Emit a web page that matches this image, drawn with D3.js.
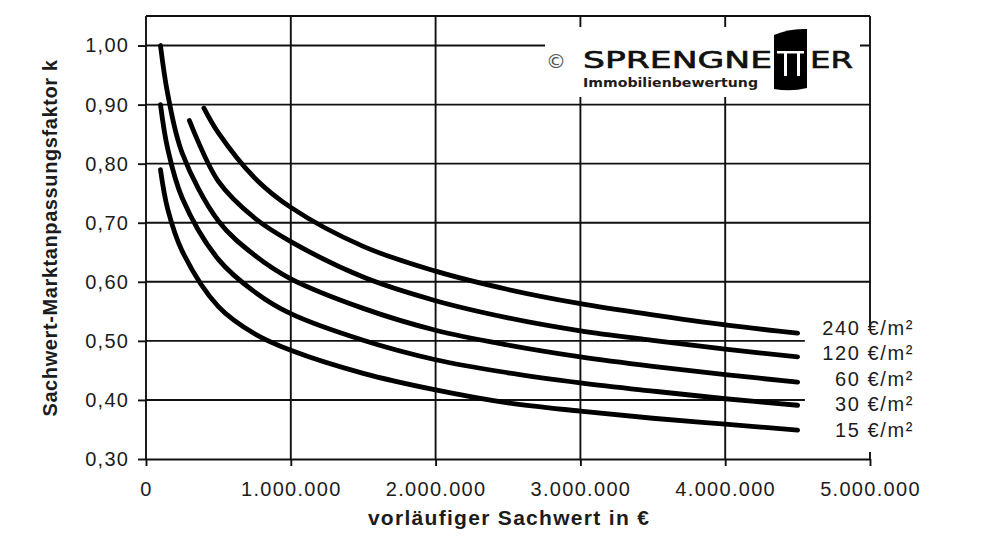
<!DOCTYPE html>
<html>
<head>
<meta charset="utf-8">
<script src="https://cdn.jsdelivr.net/npm/d3@7"></script>
<style>
body { margin: 0; background: #fff; }
text { font-family: "Liberation Sans", Arial, sans-serif; fill: #1c1c1c; }
</style>
</head>
<body>
<svg id="chart" width="997" height="556"></svg>
<script>
// axis ticks
const xTicks = [0, 1000000, 2000000, 3000000, 4000000, 5000000];
const yTicks = [0.30, 0.40, 0.50, 0.60, 0.70, 0.80, 0.90, 1.00];

// series (Bodenwertniveau) and values
const seriesLabels = ["240 €/m²", "120 €/m²", "60 €/m²", "30 €/m²", "15 €/m²"];

const xLow = [100000, 150000, 250000, 500000, 750000, 1000000, 1500000, 2000000, 2500000, 3000000, 3500000, 4000000, 4500000];
const k15 = [0.79, 0.723, 0.652, 0.558, 0.512, 0.484, 0.445, 0.417, 0.395, 0.381, 0.369, 0.359, 0.349];
const k30 = [0.90, 0.825, 0.742, 0.638, 0.583, 0.546, 0.501, 0.468, 0.446, 0.429, 0.415, 0.402, 0.391];
const k60 = [1.00, 0.918, 0.818, 0.703, 0.645, 0.605, 0.555, 0.518, 0.493, 0.473, 0.457, 0.443, 0.43];

const x120 = [300000, 500000, 750000, 1000000, 1500000, 2000000, 2500000, 3000000, 3500000, 4000000, 4500000];
const k120 = [0.873, 0.77, 0.708, 0.668, 0.608, 0.568, 0.539, 0.517, 0.501, 0.486, 0.473];

const x240 = [400000, 500000, 750000, 1000000, 1500000, 2000000, 2500000, 3000000, 3500000, 4000000, 4500000];
const k240 = [0.894, 0.852, 0.776, 0.726, 0.66, 0.618, 0.587, 0.563, 0.544, 0.527, 0.513];

const series = [
    {xs: x240, ks: k240},
    {xs: x120, ks: k120},
    {xs: xLow, ks: k60},
    {xs: xLow, ks: k30},
    {xs: xLow, ks: k15}
].map(s => s.xs.map((v, i) => ({x: v, k: s.ks[i]})));

const de = d3.formatLocale({decimal: ",", thousands: ".", grouping: [3], currency: ["", " €"]});
const fmtX = de.format(",d");
const fmtY = de.format(".2f");

const svg = d3.select("#chart");
const plotLeft = 146, plotRight = 870, plotTop = 16, plotBottom = 459;

const x = d3.scaleLinear().domain([0, 5000000]).range([plotLeft, plotRight]);
const y = d3.scaleLinear().domain([0.30, 1.05]).range([plotBottom, plotTop]);

const ink = "#111";

// horizontal gridlines (the two lowest stop before the labels)
svg.append("g").selectAll("line")
    .data(yTicks.filter(v => v > 0.3))
    .enter().append("line")
    .attr("x1", plotLeft)
    .attr("x2", d => d <= 0.5 ? x(4550000) : plotRight)
    .attr("y1", d => y(d)).attr("y2", d => y(d))
    .attr("stroke", ink).attr("stroke-width", 1.9);

// vertical gridlines
svg.append("g").selectAll("line")
    .data(xTicks.filter(v => v > 0 && v < 5000000))
    .enter().append("line")
    .attr("x1", d => x(d)).attr("x2", d => x(d))
    .attr("y1", plotTop).attr("y2", plotBottom)
    .attr("stroke", ink).attr("stroke-width", 1.9);

// top border and partial right border
svg.append("line")
    .attr("x1", plotLeft).attr("x2", plotRight)
    .attr("y1", plotTop).attr("y2", plotTop)
    .attr("stroke", ink).attr("stroke-width", 1.9);
svg.append("line")
    .attr("x1", plotRight).attr("x2", plotRight)
    .attr("y1", plotTop).attr("y2", y(0.525))
    .attr("stroke", ink).attr("stroke-width", 1.9);
svg.append("line")
    .attr("x1", plotRight).attr("x2", plotRight)
    .attr("y1", plotBottom - 7).attr("y2", plotBottom)
    .attr("stroke", ink).attr("stroke-width", 1.9);

// logo box
const logo = svg.append("g");
logo.append("rect").attr("x", 545).attr("y", 27).attr("width", 315).attr("height", 70).attr("fill", "#fff");
logo.append("text").attr("x", 556).attr("y", 68).attr("text-anchor", "middle")
    .attr("font-size", 20).style("font-family", "DejaVu Sans").style("fill", "#555").text("©");
logo.append("text").attr("x", 583).attr("y", 68)
    .attr("font-size", 23).style("font-family", "DejaVu Sans")
    .style("fill", "#111").attr("stroke", "#111").attr("stroke-width", 0.6)
    .attr("textLength", 189).attr("lengthAdjust", "spacingAndGlyphs").text("SPRENGNE");
logo.append("path")
    .attr("d", "M774,35 Q790,28 807,29 L807,88 Q791,92 774,89 Z")
    .attr("fill", "#000");
logo.append("rect").attr("x", 777).attr("y", 51).attr("width", 27).attr("height", 2.5).attr("fill", "#fff");
logo.append("rect").attr("x", 784).attr("y", 51).attr("width", 3).attr("height", 25).attr("fill", "#fff");
logo.append("rect").attr("x", 797).attr("y", 51).attr("width", 3).attr("height", 25).attr("fill", "#fff");
logo.append("text").attr("x", 810).attr("y", 68)
    .attr("font-size", 23).style("font-family", "DejaVu Sans")
    .style("fill", "#111").attr("stroke", "#111").attr("stroke-width", 0.6)
    .attr("textLength", 43).attr("lengthAdjust", "spacingAndGlyphs").text("ER");
logo.append("text").attr("x", 583).attr("y", 87)
    .attr("font-size", 13).attr("font-weight", "bold").style("font-family", "DejaVu Sans")
    .attr("textLength", 175).attr("lengthAdjust", "spacingAndGlyphs").text("Immobilienbewertung");

// curves
const line = d3.line()
    .x(d => x(d.x))
    .y(d => y(d.k))
    .curve(d3.curveCatmullRom.alpha(0.5));

svg.append("g").selectAll("path")
    .data(series)
    .enter().append("path")
    .attr("d", line)
    .attr("fill", "none")
    .attr("stroke", "#000")
    .attr("stroke-width", 4.8)
    .attr("stroke-linecap", "round");

// axes
const xAxis = d3.axisBottom(x).tickValues(xTicks).tickSize(7).tickSizeOuter(0).tickPadding(16).tickFormat(fmtX);
const yAxis = d3.axisLeft(y).tickValues(yTicks).tickSize(8).tickSizeOuter(0).tickPadding(8.7).tickFormat(fmtY);

const gx = svg.append("g").attr("transform", `translate(0,${plotBottom})`).call(xAxis);
const gy = svg.append("g").attr("transform", `translate(${plotLeft},0)`).call(yAxis);

[gx, gy].forEach(g => {
    g.attr("font-family", null).attr("font-size", null);
    g.selectAll("path, line").attr("stroke", ink).attr("stroke-width", 1.9);
    g.selectAll("text").attr("font-size", 20).style("letter-spacing", "1.3px").attr("fill", "#1c1c1c");
});
gy.select(".domain").attr("d", `M0,${plotTop}V${plotBottom}`);

// series labels at the right
svg.append("g").selectAll("text")
    .data(seriesLabels)
    .enter().append("text")
    .attr("x", 914)
    .attr("y", (d, i) => 335 + i * 25.4)
    .attr("text-anchor", "end")
    .attr("font-size", 20)
    .style("letter-spacing", "1.6px")
    .text(d => d);

// axis titles
svg.append("text")
    .attr("x", 509).attr("y", 525)
    .attr("text-anchor", "middle")
    .attr("font-size", 21).attr("font-weight", "bold")
    .style("letter-spacing", "1.3px")
    .text("vorläufiger Sachwert in €");

svg.append("text")
    .attr("transform", "translate(57,238) rotate(-90)")
    .attr("text-anchor", "middle")
    .attr("font-size", 20).attr("font-weight", "bold")
    .style("letter-spacing", "0.6px")
    .text("Sachwert-Marktanpassungsfaktor k");
</script>
</body>
</html>
